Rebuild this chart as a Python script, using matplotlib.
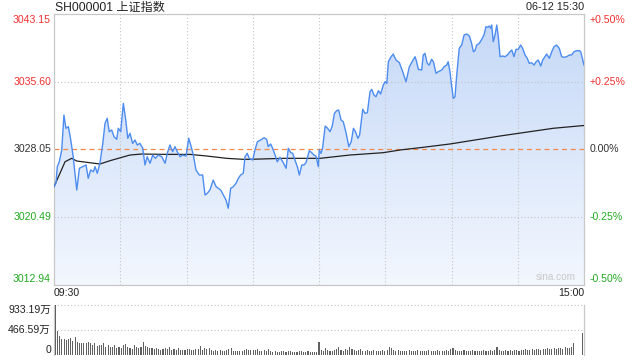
import numpy as np
import matplotlib
matplotlib.use("Agg")
import matplotlib.pyplot as plt
from matplotlib.colors import LinearSegmentedColormap

plt.rcParams['font.family'] = ['Liberation Sans', 'Noto Sans CJK SC', 'DejaVu Sans']

title = "SH000001 上证指数"
stamp = "06-12 15:30"
prev_close = 3028.05
price_ticks = [3043.15, 3035.60, 3028.05, 3020.49, 3012.94]
price_labels = ["3043.15", "3035.60", "3028.05", "3020.49", "3012.94"]
pct_labels = ["+0.50%", "+0.25%", "0.00%", "-0.25%", "-0.50%"]
label_colors = ["#f03030", "#f03030", "#333333", "#22aa22", "#22aa22"]
time_labels = ["09:30", "15:00"]
vol_ticks = [933.19, 466.59, 0]
vol_labels = ["933.19万", "466.59万", "0"]

# minutes since 09:30 (trading minutes, lunch removed)
price_t = [0.0, 0.9, 1.5, 2.4, 3.5, 4.5, 5.4, 6.5, 7.6, 8.7, 10.3, 11.5, 13.0, 14.5, 15.5, 16.6,
           17.8, 18.6, 19.6, 20.8, 22.1, 23.1, 24.1, 25.0, 26.1, 27.2, 28.4, 29.1, 30.2, 31.4, 32.5,
           33.4, 34.4, 35.6, 36.7, 37.7, 38.9, 40.2, 41.2, 42.2, 43.5, 44.7, 45.9, 47.2, 48.8, 50.3,
           51.3, 52.5, 53.7, 54.8, 55.8, 57.1, 58.3, 59.8, 61.0, 61.9, 63.1, 64.3, 65.8, 67.3, 68.4,
           69.4, 70.6, 72.1, 73.4, 74.4, 75.5, 76.7, 77.9, 78.9, 80.0, 81.2, 82.4, 83.5, 84.5, 85.7,
           86.5, 87.5, 88.4,
           90.0, 91.0, 92.1, 94.1, 95.1, 96.3, 97.0, 98.1, 99.0, 100.1, 101.1, 102.3, 103.6, 105.1,
           106.1, 107.2, 108.1, 109.1, 110.2, 111.1, 112.2, 113.2, 114.1, 115.6, 116.7, 117.7, 118.6,
           119.7,
           120.1, 120.9, 121.6, 122.8, 123.9, 125.0, 126.0, 127.0, 128.0, 128.9, 130.0, 131.0, 132.3,
           133.5, 134.6, 135.6, 136.5, 137.6, 138.4, 139.8, 140.8, 141.9, 143.1, 143.9, 144.9, 145.8,
           146.9, 147.9, 149.1, 149.9, 150.7, 151.4, 152.5, 153.6, 154.9, 156.4, 157.9, 159.4, 160.9,
           162.4, 163.5, 164.2, 165.0, 166.5, 167.2, 168.0, 169.0, 169.9, 171.0, 171.8, 173.0, 174.0,
           175.6, 176.6, 177.8,
           178.5, 179.3, 180.1, 180.8, 181.6, 182.3, 183.5, 184.6, 185.7, 186.9, 188.1, 189.1, 189.9,
           190.6, 191.4, 192.6, 193.7, 194.7, 195.6, 196.4, 197.1, 197.8, 198.2, 198.9, 199.7, 200.5,
           201.2, 202.0, 203.2, 204.2, 205.3, 206.5, 207.3, 208.3, 209.2, 210.2, 211.3, 212.2, 213.3,
           214.3, 215.2, 216.3, 217.4, 218.3, 219.3, 220.4, 221.3, 222.3, 223.1, 224.3, 225.4, 226.4,
           227.6, 228.8, 229.9, 230.9, 232.2, 233.3, 234.4, 235.5, 236.7, 237.9, 238.5, 240.0]

price_v = [3023.90, 3024.31, 3026.13, 3026.68, 3027.99, 3031.89, 3030.41, 3030.59, 3029.10, 3027.24,
           3023.53, 3025.95, 3026.13, 3026.32, 3024.83, 3025.76, 3025.57, 3026.13, 3025.39, 3026.51,
           3028.73, 3030.96, 3031.52, 3030.03, 3030.22, 3029.47, 3029.18, 3030.41, 3030.03, 3033.19,
           3031.33, 3029.29, 3029.85, 3028.73, 3029.10, 3028.55, 3028.73, 3028.18, 3026.32, 3027.24,
           3026.51, 3027.43, 3027.06, 3027.43, 3027.24, 3026.51, 3027.62, 3028.55, 3027.80, 3028.36,
           3027.80, 3027.24, 3027.43, 3027.32, 3029.29, 3028.55, 3027.43, 3025.76, 3025.20, 3025.20,
           3022.97, 3023.16, 3023.53, 3024.64, 3023.90, 3023.72, 3023.53, 3022.97, 3022.41, 3021.49,
           3023.72, 3023.90, 3024.28, 3024.83, 3025.20, 3025.39, 3027.24, 3027.62, 3027.06,
           3026.87, 3027.99, 3028.91, 3029.18, 3029.36, 3029.18, 3028.36, 3028.66, 3028.18, 3027.43,
           3026.68, 3027.17, 3026.68, 3025.95, 3028.18, 3027.69, 3027.62, 3026.87, 3026.13, 3025.20,
           3026.32, 3026.32, 3026.57, 3027.91, 3027.69, 3027.43, 3027.32, 3026.13,
           3027.99, 3027.62, 3028.18, 3030.66, 3030.41, 3030.03, 3030.66, 3032.08, 3032.37, 3032.45,
           3031.33, 3031.14, 3029.85, 3028.36, 3028.91, 3030.41, 3030.03, 3029.29, 3029.66, 3032.53,
           3032.08, 3032.15, 3034.49, 3034.75, 3034.12, 3033.93, 3034.60, 3034.23, 3035.23, 3035.60,
           3035.42, 3037.83, 3038.32, 3038.69, 3038.02, 3037.72, 3036.72, 3035.60, 3037.27, 3037.94,
           3038.39, 3037.83, 3036.98, 3036.91, 3038.58, 3038.77, 3037.65, 3037.46, 3038.10, 3037.83,
           3036.54, 3036.72, 3036.91, 3037.27, 3037.46,
           3037.83, 3036.72, 3035.04, 3033.75, 3033.93, 3036.16, 3039.33, 3039.69, 3040.81, 3040.92,
           3040.70, 3039.88, 3038.95, 3039.06, 3039.69, 3039.88, 3040.33, 3040.81, 3041.73, 3041.67,
           3041.81, 3041.56, 3041.92, 3040.06, 3040.81, 3041.92, 3040.62, 3038.39, 3038.47, 3038.39,
           3038.58, 3038.95, 3039.14, 3038.39, 3039.21, 3039.21, 3039.69, 3039.33, 3038.58, 3038.21,
           3037.65, 3037.72, 3037.46, 3037.83, 3038.02, 3037.35, 3038.02, 3038.39, 3038.69, 3038.21,
           3038.95, 3039.50, 3039.69, 3039.33, 3038.39, 3038.32, 3038.39, 3038.58, 3038.58, 3038.95,
           3039.06, 3039.06, 3038.95, 3037.46]

avg_t = [0.0, 2.7, 5.0, 8.0, 10.3, 16.3, 20.8, 25.4, 30.7, 34.4, 39.7, 51.0, 61.6, 69.1, 78.2,
         85.7, 88.8, 103.8, 120.5, 134.0, 149.1, 156.7, 167.2, 179.3, 202.0, 226.1, 240.0]
avg_v = [3023.90, 3025.39, 3026.68, 3027.06, 3026.76, 3026.57, 3026.43, 3026.80, 3027.17, 3027.43,
         3027.54, 3027.50, 3027.50, 3027.32, 3027.06, 3026.95, 3026.95, 3027.06, 3027.06, 3027.43,
         3027.69, 3027.99, 3028.29, 3028.66, 3029.55, 3030.41, 3030.72]

# volume per minute, in 万
volume = [933, 453, 354, 293, 293, 280, 293, 311, 267, 330,
          249, 230, 230, 218, 230, 249, 218, 187, 218, 168,
          187, 187, 218, 155, 187, 155, 155, 187, 125, 155,
          125, 187, 205, 155, 125, 112, 187, 155, 125, 155,
          249, 168, 155, 125, 125, 112, 125, 112, 93, 112,
          131, 112, 150, 100, 112, 93, 131,
          93, 93, 93, 112, 112, 93, 93, 112, 112, 168,
          93, 131, 112, 131, 93, 75, 93, 75, 93, 75,
          75, 93, 112, 131, 75, 75, 75, 75, 75, 93,
          112, 93, 93, 93, 93, 112, 75, 75, 93, 75,
          112, 75, 56, 75, 56, 56, 75, 75, 56, 75,
          75, 56, 56, 56, 75, 75, 56, 56, 75, 56,
          56, 56, 56,
          243,
          93, 75, 131, 93, 75, 75, 93, 112, 150,
          93, 75, 112, 93, 150, 112, 93, 75, 93, 112,
          75, 75, 93, 75, 75, 93, 75, 75, 75, 93,
          75, 93, 150, 131, 93, 75, 93, 75, 75, 75,
          75, 93, 75, 75, 75, 93, 75, 75, 75, 75,
          93, 75, 75, 75, 93, 75, 75, 75, 93, 75,
          112, 131, 93, 75, 75, 75, 93, 75, 75, 75,
          93, 75, 75, 75, 75, 93, 75, 75, 93, 75,
          93, 150, 93, 75, 75, 93, 75, 93, 75, 93,
          93, 75, 93, 93, 112, 93, 93, 112, 93, 112,
          112, 93, 112, 112, 131, 112, 112, 131, 112, 131,
          131, 112, 150, 131, 125, 155, 218,
          8, 8, 8,
          405]

W, H = 640, 360
fig = plt.figure(figsize=(6.4, 3.6), dpi=100)
fig.patch.set_facecolor("white")

L, R = 54, 584
ax = fig.add_axes([L / W, 1 - 285 / H, (R - L) / W, (285 - 14) / H])
ymin, ymax = price_ticks[-1], price_ticks[0]
span = ymax - ymin

grad = np.linspace(0, 1, 256).reshape(-1, 1)
cmap = LinearSegmentedColormap.from_list("g", ["#f3f7fe", "#c4d8f7"])
im = ax.imshow(grad, extent=[0, 240, ymin, ymax], origin="lower", aspect="auto",
               cmap=cmap, zorder=1, interpolation="bilinear")
poly = ax.fill_between(price_t, price_v, ymin, facecolor="none", edgecolor="none")
im.set_clip_path(poly.get_paths()[0], transform=ax.transData)

grid_kw = dict(color="#c4c4c4", lw=0.8, ls=(0, (1, 2)), zorder=2)
for v in price_ticks[1:-1]:
    if v != prev_close:
        ax.axhline(v, **grid_kw)
for t in range(30, 240, 30):
    ax.axvline(t, **grid_kw)
ax.axhline(prev_close, color="#f2884a", lw=0.9, ls=(0, (4, 3)), zorder=2)

ax.plot(avg_t, avg_v, color="#222222", lw=0.9, zorder=3)
ax.plot(price_t, price_v, color="#4d8cf0", lw=1.0, zorder=4)

ax.set_xlim(0, 240)
ax.set_ylim(ymin, ymax)
ax.set_xticks([])
ax.set_yticks([])
for s in ax.spines.values():
    s.set_color("#c8c8c8")
    s.set_linewidth(0.9)

ytr = ax.get_yaxis_transform()
n = len(price_ticks)
for i, (v, lab, pl, c) in enumerate(zip(price_ticks, price_labels, pct_labels, label_colors)):
    if i == 0:
        va, yy = "top", v - 0.002 * span
    elif i == n - 1:
        va, yy = "bottom", v + 0.002 * span
    else:
        va, yy = "center", v
    ax.text(-3 / (R - L), yy, lab, transform=ytr, ha="right", va=va, fontsize=7.6, color=c)
    ax.text(1 + 6 / (R - L), yy, pl, transform=ytr, ha="left", va=va, fontsize=7.6, color=c)

ax.text(0.985, 0.012, "sina.com", transform=ax.transAxes, ha="right", va="bottom",
        fontsize=7.2, color="#c8c8c8")

fig.text(L / W + 1 / W, 1 - 7.5 / H, title, ha="left", va="center", fontsize=8.7, color="#222222")
fig.text(R / W, 1 - 7.5 / H, stamp, ha="right", va="center", fontsize=7.8, color="#222222")
fig.text(L / W, 1 - 293.5 / H, time_labels[0], ha="left", va="center", fontsize=7.6, color="#222222")
fig.text(R / W, 1 - 293.5 / H, time_labels[1], ha="right", va="center", fontsize=7.6, color="#222222")

# volume panel
ax2 = fig.add_axes([L / W, 1 - 355 / H, (R - L) / W, 50 / H])
x_idx = np.arange(len(volume))
ax2.bar(x_idx, volume, width=0.5, color="#606060", zorder=3)
ax2.set_xlim(-0.6, len(volume) - 0.4)
ax2.set_ylim(0, vol_ticks[0])
ax2.set_xticks([])
ax2.set_yticks([])
for k in ["top", "bottom"]:
    ax2.spines[k].set_visible(False)
for k in ["left", "right"]:
    ax2.spines[k].set_color("#c8c8c8")
    ax2.spines[k].set_linewidth(0.9)
for v in vol_ticks[:2]:
    ax2.axhline(v, color="#c4c4c4", lw=0.8, ls=(0, (1, 2)), zorder=1, clip_on=False)
ytr2 = ax2.get_yaxis_transform()
for i, (v, lab) in enumerate(zip(vol_ticks, vol_labels)):
    va = "top" if i == 0 else ("bottom" if i == 2 else "center")
    ax2.text(-3 / (R - L), v, lab, transform=ytr2, ha="right", va=va, fontsize=7.6, color="#222222")

fig.savefig("out.png", dpi=100)
